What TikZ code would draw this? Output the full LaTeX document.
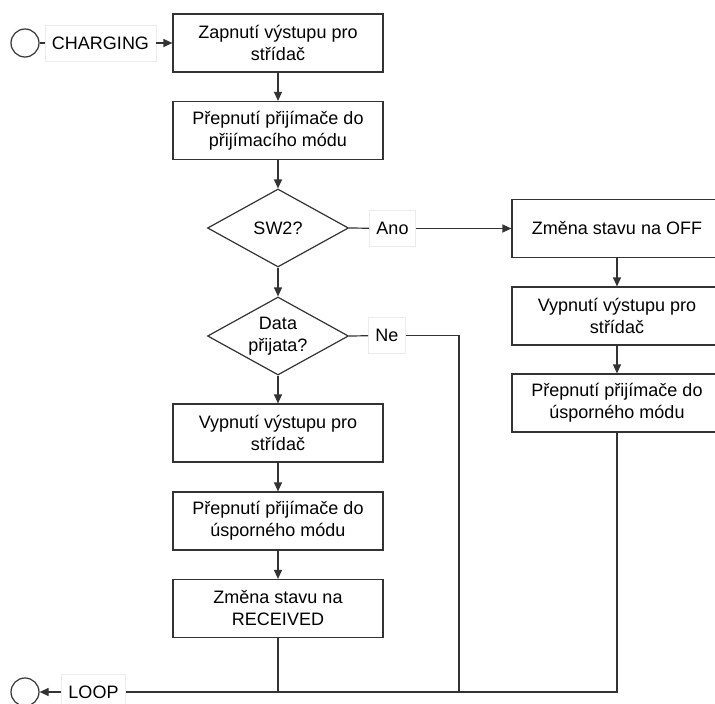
\documentclass[tikz,border=0pt]{standalone}
\usepackage{fontspec}
\setmainfont{Liberation Sans}
\usetikzlibrary{shapes.geometric,arrows.meta}
\begin{document}
\begin{tikzpicture}[x=1pt,y=-1pt,
  font=\fontsize{18}{22}\selectfont,
  every node/.style={inner sep=0pt},
  line/.style={draw=black!80,line width=1.2pt},
  arrow/.style={line,-{Triangle[length=9pt,width=8pt]}},
  stepbox/.style={draw=black!80,line width=1.2pt,fill=white,
    minimum width=210pt,minimum height=58pt,align=center},
  decision/.style={diamond,draw=black!80,line width=1.2pt,fill=white,
    minimum width=141pt,minimum height=78pt},
  tag/.style={fill=white,draw=black!8,line width=0.6pt,
    minimum height=36pt,inner xsep=7pt},
  terminal/.style={circle,draw=black!80,line width=1.2pt,minimum size=28pt}
]
\useasboundingbox (0,0) rectangle (715,704);

% entry point
\node[terminal] (cin) at (25,43) {};
\node[tag] (lcharge) at (100.5,43) {CHARGING};

% main column
\node[stepbox] (b1) at (278,43)  {Zapnutí výstupu pro\\střídač};
\node[stepbox] (b2) at (278,130.5) {Přepnutí přijímače do\\přijímacího módu};
\node[decision] (d1) at (278,228) {};
\node (d1t) at (d1.center) {SW2?};
\node[decision] (d2) at (278,336) {};
\node[align=center] (d2t) at (d2.center) {Data\\přijata?};
\node[stepbox] (b3) at (278,433)  {Vypnutí výstupu pro\\střídač};
\node[stepbox] (b4) at (278,521)  {Přepnutí přijímače do\\úsporného módu};
\node[stepbox] (b5) at (278,608.5) {Změna stavu na\\RECEIVED};

% branch for SW2
\node[stepbox] (r1) at (617,228.5) {Změna stavu na OFF};
\node[stepbox] (r2) at (617,316) {Vypnutí výstupu pro\\střídač};
\node[stepbox] (r3) at (617,403) {Přepnutí přijímače do\\úsporného módu};

% branch labels
\node[tag] (ano) at (392.5,228.5) {Ano};
\node[tag] (ne) at (387,335.5) {Ne};

% exit point
\node[terminal] (cout) at (25,692) {};
\node[tag] (lloop) at (93.5,692) {LOOP};

\coordinate (nebend) at (459,335.5);
\coordinate (nejoin) at (459,692);
\coordinate (rjoin) at (617,692);
\coordinate (ljoin) at (278,692);

% connectors
\draw[line] (cin) -- (lcharge);
\draw[arrow] (lcharge) -- (b1);
\draw[arrow] (b1) -- (b2);
\draw[arrow] (b2) -- (d1);
\draw[arrow] (d1) -- (d2);
\draw[arrow] (d2) -- (b3);
\draw[arrow] (b3) -- (b4);
\draw[arrow] (b4) -- (b5);

\draw[line] (d1.east) -- (ano);
\draw[arrow] (ano) -- (r1);
\draw[arrow] (r1) -- (r2);
\draw[arrow] (r2) -- (r3);

\draw[line] (d2.east) -- (ne);
\draw[line] (ne) -- (nebend) -- (nejoin);

\draw[line] (r3) -- (rjoin) -- (lloop);
\draw[line] (b5) -- (ljoin);
\draw[arrow] (lloop) -- (cout);
\end{tikzpicture}
\end{document}
